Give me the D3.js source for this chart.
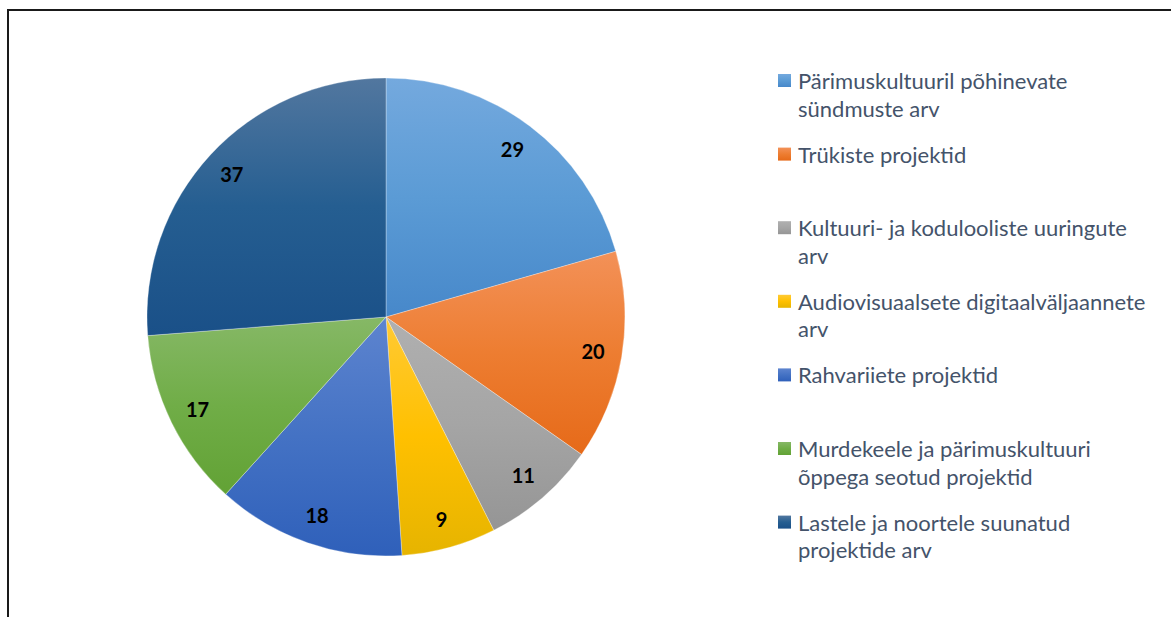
<!DOCTYPE html>
<html>
<head>
<meta charset="utf-8">
<script src="https://cdn.jsdelivr.net/npm/d3@7"></script>
<style>
  body { margin: 0; background: #fff; }
  svg { display: block; }
</style>
</head>
<body>
<div id="chart"></div>
<script>
// data
var categories = [
    "Pärimuskultuuril põhinevate sündmuste arv",
    "Trükiste projektid",
    "Kultuuri- ja kodulooliste uuringute arv",
    "Audiovisuaalsete digitaalväljaannete arv",
    "Rahvariiete projektid",
    "Murdekeele ja pärimuskultuuri õppega seotud projektid",
    "Lastele ja noortele suunatud projektide arv"
];
var values = [29, 20, 11, 9, 18, 17, 37];

// legend lines as they wrap in the picture
var legendLines = [
    ["Pärimuskultuuril põhinevate", "sündmuste arv"],
    ["Trükiste projektid"],
    ["Kultuuri- ja kodulooliste uuringute", "arv"],
    ["Audiovisuaalsete digitaalväljaannete", "arv"],
    ["Rahvariiete projektid"],
    ["Murdekeele ja pärimuskultuuri", "õppega seotud projektid"],
    ["Lastele ja noortele suunatud", "projektide arv"]
];

// top / middle / bottom colour of each slice gradient
var sliceColors = [
    ["#74a9de", "#5b9bd5", "#4788ca"],
    ["#f39158", "#ed7d31", "#e66a19"],
    ["#b0b0b0", "#a5a5a5", "#959595"],
    ["#ffca35", "#ffc000", "#e6b400"],
    ["#5d84cf", "#4472c4", "#2f60ba"],
    ["#86b866", "#70ad47", "#62a235"],
    ["#52779f", "#255e91", "#1a5088"]
];

var width = 1171;
var height = 617;
var cx = 386, cy = 317;
var radius = 239;
var labelRadius = 210;

var svg = d3.select("#chart").append("svg")
    .attr("width", width)
    .attr("height", height);

// chart frame (runs off the right and bottom)
svg.append("rect")
    .attr("x", 8)
    .attr("y", 10)
    .attr("width", width + 20)
    .attr("height", height + 20)
    .attr("fill", "#fff")
    .attr("stroke", "#1a1a1a")
    .attr("stroke-width", 2);

var defs = svg.append("defs");
sliceColors.forEach(function(c, i) {
    var g = defs.append("linearGradient")
        .attr("id", "grad" + i)
        .attr("x1", 0).attr("y1", 0)
        .attr("x2", 0).attr("y2", 1);
    g.append("stop").attr("offset", "0%").attr("stop-color", c[0]);
    g.append("stop").attr("offset", "50%").attr("stop-color", c[1]);
    g.append("stop").attr("offset", "100%").attr("stop-color", c[2]);
});

var pie = d3.pie().sort(null).value(function(d) { return d; });
var arcs = pie(values);
var arc = d3.arc().innerRadius(0).outerRadius(radius);
var labelArc = d3.arc().innerRadius(labelRadius).outerRadius(labelRadius);

var g = svg.append("g").attr("transform", "translate(" + cx + "," + cy + ")");

g.selectAll("path.slice")
    .data(arcs)
    .enter().append("path")
    .attr("class", "slice")
    .attr("d", arc)
    .attr("fill", function(d, i) { return "url(#grad" + i + ")"; })
    .attr("stroke", "#ffffff")
    .attr("stroke-opacity", 0.5)
    .attr("stroke-width", 0.6);

g.selectAll("text.val")
    .data(arcs)
    .enter().append("text")
    .attr("class", "val")
    .attr("transform", function(d) { return "translate(" + labelArc.centroid(d) + ")"; })
    .attr("text-anchor", "middle")
    .attr("dy", "0.36em")
    .attr("font-family", "Lato, 'Open Sans', sans-serif")
    .attr("font-weight", "bold")
    .attr("font-size", "20px")
    .attr("fill", "#000")
    .text(function(d) { return d.data; });

// legend
var legendX = 778;
var firstBaseline = 89;
var itemStep = 73.6;
var lineHeight = 27.5;

var legend = svg.append("g");
legendLines.forEach(function(lines, i) {
    var y = firstBaseline + i * itemStep;
    legend.append("rect")
        .attr("x", legendX)
        .attr("y", y - 15)
        .attr("width", 13)
        .attr("height", 13)
        .attr("fill", "url(#grad" + i + ")");
    var t = legend.append("text")
        .attr("x", legendX + 20)
        .attr("y", y)
        .attr("font-family", "Lato, 'Open Sans', sans-serif")
        .attr("font-size", "22px")
        .attr("fill", "#44536a");
    lines.forEach(function(line, j) {
        t.append("tspan")
            .attr("x", legendX + 20)
            .attr("y", y + j * lineHeight)
            .text(line);
    });
});
</script>
</body>
</html>
